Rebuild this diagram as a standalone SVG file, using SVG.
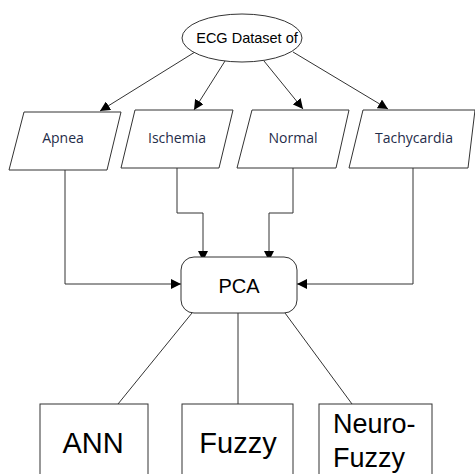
<svg xmlns="http://www.w3.org/2000/svg" width="475" height="474" viewBox="0 0 475 474">
<style>
.s{fill:#fff;stroke:#333;stroke-width:1}
.c{fill:none;stroke:#333;stroke-width:1}
.l{font-family:"Open Sans","Noto Sans",sans-serif;font-size:14px;fill:#1f2d4a;text-anchor:middle}
.b{font-family:"Liberation Sans",Arial,sans-serif;fill:#000}
</style>
<defs>
<marker id="ah" viewBox="0 0 10 10" refX="10" refY="5" markerWidth="10" markerHeight="10" markerUnits="userSpaceOnUse" orient="auto">
<path d="M0,0 L10,5 L0,10 z" fill="#000"/>
</marker>
</defs>
<rect width="475" height="474" fill="#fff"/>
<g id="connectors">
<line class="c" x1="195" y1="52" x2="100" y2="111" marker-end="url(#ah)"/>
<line class="c" x1="225" y1="61" x2="194" y2="110" marker-end="url(#ah)"/>
<line class="c" x1="264" y1="61" x2="303" y2="109" marker-end="url(#ah)"/>
<line class="c" x1="293" y1="52" x2="388" y2="109" marker-end="url(#ah)"/>
<polyline class="c" points="65,170 65,284 181,284" marker-end="url(#ah)"/>
<polyline class="c" points="177,168 177,213 203,213 203,261" marker-end="url(#ah)"/>
<polyline class="c" points="293,168 293,213 269,213 269,261" marker-end="url(#ah)"/>
<polyline class="c" points="413,168 413,284 297,284" marker-end="url(#ah)"/>
<line class="c" x1="192" y1="313" x2="118" y2="404"/>
<line class="c" x1="238" y1="313" x2="238" y2="404"/>
<line class="c" x1="285" y1="313" x2="352" y2="404"/>
</g>
<g id="dataset">
<ellipse class="s" cx="242" cy="38" rx="60" ry="24"/>
<text class="b" x="247" y="43" font-size="14.5" text-anchor="middle">ECG Dataset of</text>
</g>
<g id="apnea">
<polygon class="s" points="24,112 121,112 107,170 9,170"/>
<text class="l" x="63" y="143">Apnea</text>
</g>
<g id="ischemia">
<polygon class="s" points="135,110 233,110 219,168 121,168"/>
<text class="l" x="177" y="143">Ischemia</text>
</g>
<g id="normal">
<polygon class="s" points="252,110 349,110 336,168 237,168"/>
<text class="l" x="293" y="143">Normal</text>
</g>
<g id="tachycardia">
<polygon class="s" points="363,110 475,110 468,168 349,168"/>
<text class="l" x="414" y="143">Tachycardia</text>
</g>
<g id="pca">
<rect class="s" x="181" y="257" width="116" height="56" rx="13" ry="13"/>
<text class="b" x="239" y="293" font-size="20" text-anchor="middle">PCA</text>
</g>
<g id="ann">
<rect class="s" x="40" y="404" width="108" height="80"/>
<text class="b" x="93" y="453" font-size="29" text-anchor="middle">ANN</text>
</g>
<g id="fuzzy">
<rect class="s" x="182" y="404" width="111" height="80"/>
<text class="b" x="238" y="453" font-size="29" text-anchor="middle">Fuzzy</text>
</g>
<g id="neurofuzzy">
<rect class="s" x="319" y="404" width="113" height="80"/>
<text class="b" x="333" y="433" font-size="27">Neuro-</text>
<text class="b" x="333" y="467" font-size="27">Fuzzy</text>
</g>
</svg>
